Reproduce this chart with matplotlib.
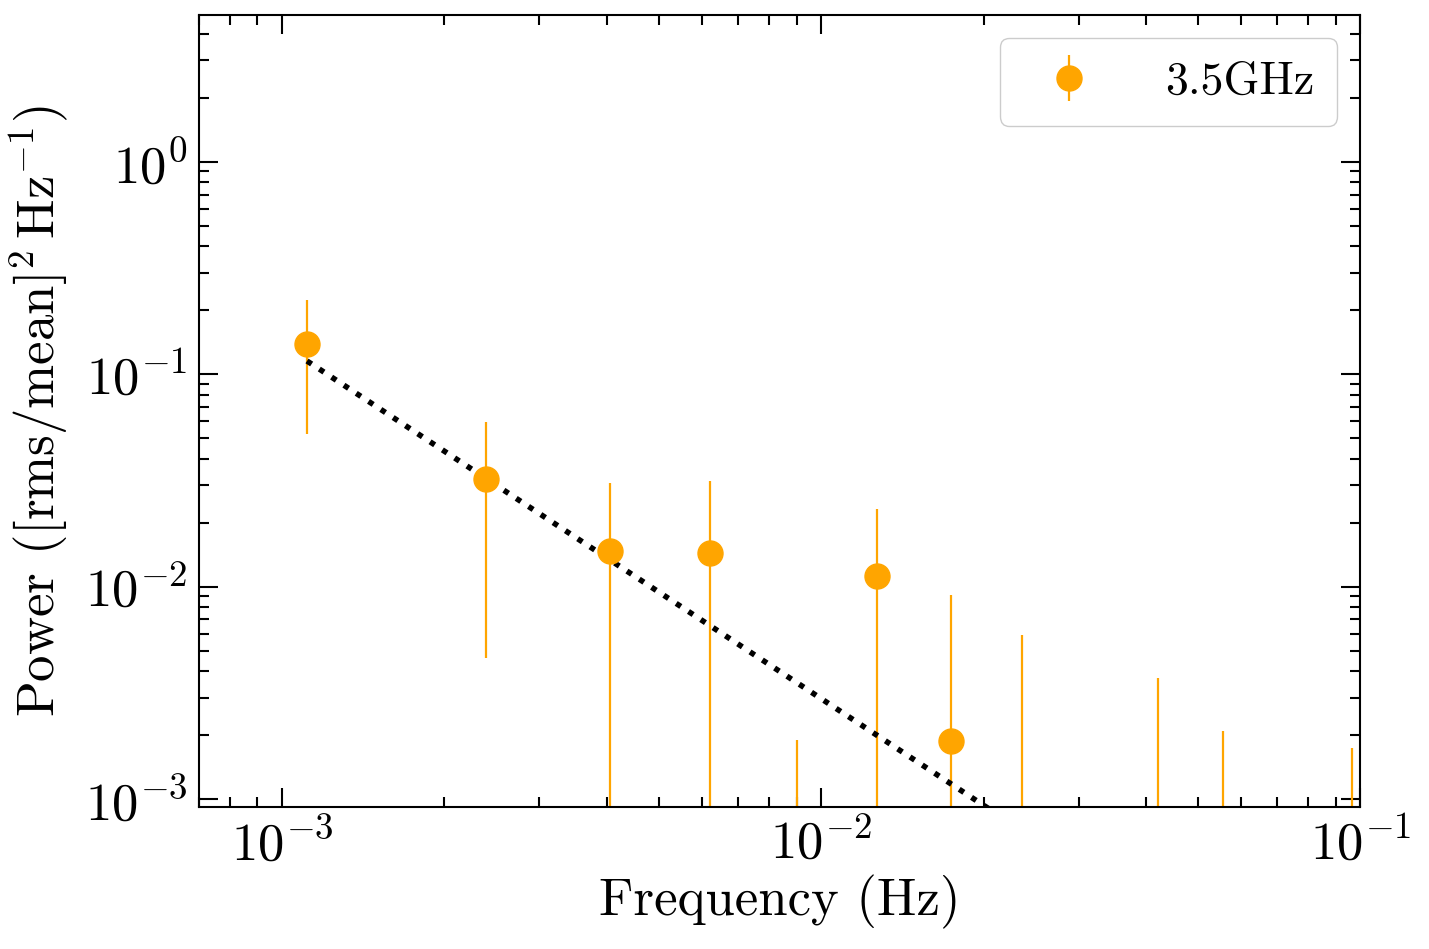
import numpy as np
import matplotlib
matplotlib.use("Agg")
import matplotlib.pyplot as plt

# binned power spectrum, 3.5 GHz light curve
freq = [1.112e-3, 2.39e-3, 4.06e-3, 6.22e-3, 9.03e-3, 1.27e-2,
        1.74e-2, 2.36e-2, 4.22e-2, 5.57e-2, 9.66e-2]
power = [0.138, 0.0322, 0.01477, 0.01445, -0.0005, 0.01127,
         0.00187, -0.0010, -0.0008, -0.0006, -0.0005]
power_err = [0.0857, 0.0276, 0.0161, 0.0170, 0.0024, 0.0120,
             0.0073, 0.00694, 0.00453, 0.0027, 0.00224]

# power-law fit P = norm * f^-index
fit_norm = 10 ** -5.862
fit_index = 1.667

plt.rcParams.update({
    "font.family": "serif",
    "font.serif": ["cmr10"],
    "mathtext.fontset": "cm",
    "axes.formatter.use_mathtext": True,
    "axes.unicode_minus": False,
})


def main():
    fig = plt.figure(figsize=(14.29, 9.49), dpi=100)
    ax = fig.add_axes([0.139, 0.150, 0.813, 0.834])

    ax.errorbar(freq, power, yerr=power_err, fmt="o", color="orange",
                ms=18, elinewidth=1.6, capsize=0, label="3.5GHz")

    f_fit = np.array([freq[0], freq[-1]])
    ax.plot(f_fit, fit_norm * f_fit ** -fit_index, ":", color="black", lw=4)

    ax.set_xscale("log")
    ax.set_yscale("log")
    ax.set_xlim(7.0e-4, 0.1)
    ax.set_ylim(9.2e-4, 4.9)

    ax.tick_params(which="both", direction="in", top=True, right=True,
                   labelsize=38, width=1.5, pad=8)
    ax.tick_params(which="major", length=14)
    ax.tick_params(which="minor", length=7)
    for s in ax.spines.values():
        s.set_linewidth(1.5)

    ax.set_xlabel("Frequency (Hz)", fontsize=38, labelpad=4)
    ax.set_ylabel(r"Power ([rms/mean]$^2\,$Hz$^{-1}$)", fontsize=38, labelpad=10)

    ax.legend(loc="upper right", fontsize=33, handletextpad=1.1,
              borderpad=0.5, framealpha=1, fancybox=True)

    fig.savefig("out.png", dpi=100)
    plt.close(fig)


if __name__ == "__main__":
    main()
